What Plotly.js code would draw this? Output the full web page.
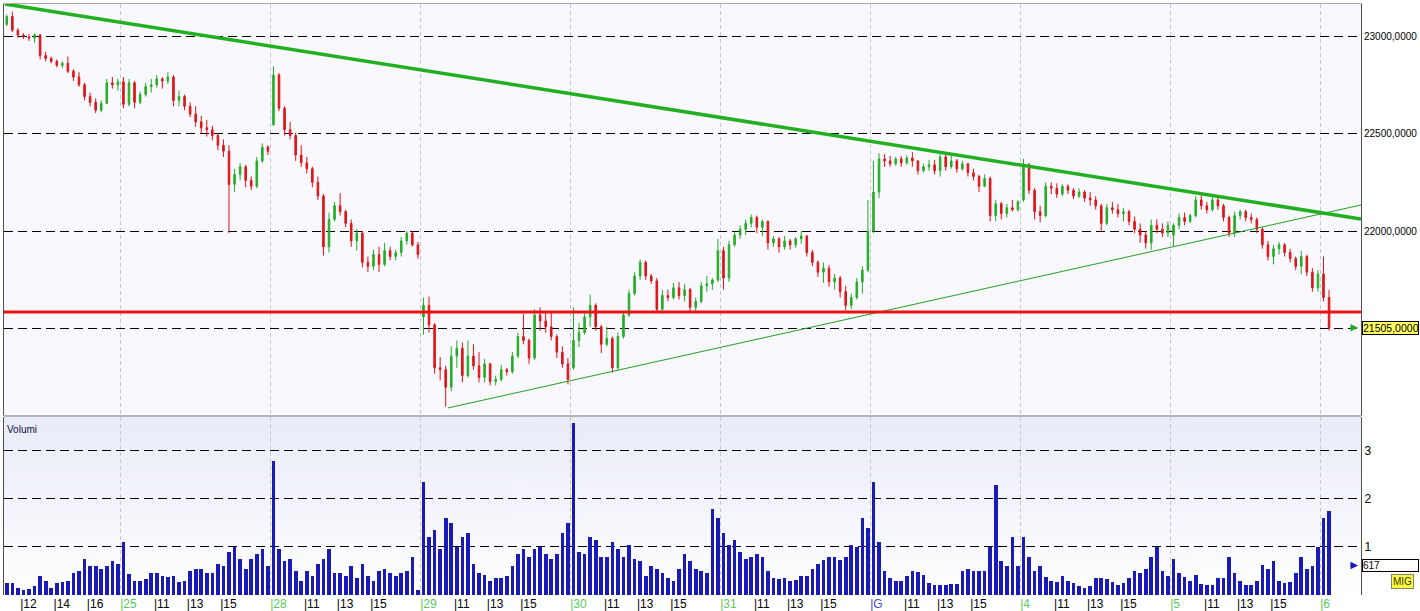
<!DOCTYPE html>
<html><head><meta charset="utf-8">
<script src="https://cdn.plot.ly/plotly-3.0.1.min.js"></script>
<style>html,body{margin:0;padding:0;background:#fff;}#chart{width:1420px;height:611px;}</style>
</head><body><div id="chart"></div>
<script>
// ---- DATA (20-minute bars) ----
const dayNames = ['25','28','29','30','31','G','4','5','6'];
const firstDayHours = ['12','14','16'];
const dayHours = ['11','13','15'];
const priceTicks = [21500, 22000, 22500, 23000];
const volumeTicks = [1, 2, 3];

const openP = [
 23060,23100,23030,23005,22995,22990,23005,22900,22885,22870,22850,22860,22820,22790,22750,22690,22660,22620,22655,22760,22750,
 22765,22650,22760,22660,22700,22740,22750,22780,22770,22790,22670,22690,22640,22600,22560,22530,22520,22490,22440,22410,22240,22290,22330,22260,22230,22360,22430,
 22545,22800,22630,22520,22490,22390,22350,22320,22250,22180,21920,22060,22130,22100,22040,21950,21990,21840,21820,21880,21830,21900,21870,21890,21950,21990,21930,
 21560,21620,21520,21300,21290,21200,21360,21400,21260,21360,21310,21250,21320,21230,21240,21290,21280,21360,21460,21440,21350,21570,21540,21510,21460,21380,21320,
 21300,21440,21480,21560,21620,21510,21420,21450,21300,21460,21570,21680,21770,21840,21770,21745,21600,21670,21660,21710,21670,21700,21610,21640,21720,21730,21750,
 21900,21760,21930,21980,22010,22040,22070,22020,22050,21940,21960,21920,21950,21930,21960,21975,21890,21840,21790,21810,21740,21760,21690,21620,21660,21740,21800,
 22000,22200,22370,22360,22345,22370,22350,22375,22360,22310,22330,22340,22310,22380,22330,22360,22320,22345,22300,22280,22230,22270,22080,22140,22090,22120,22110,
 22160,22340,22210,22100,22080,22230,22220,22190,22230,22210,22180,22200,22170,22160,22130,22040,22120,22110,22090,22100,22050,22010,21980,21940,22030,22010,21990,
 21980,22030,22070,22050,22080,22160,22130,22110,22160,22130,22070,21990,22080,22100,22070,22060,22010,21930,21870,21910,21930,21890,21860,21820,21870,21790,21710,
 21780,21660
];
const highP = [
 23110,23125,23040,23015,23010,23015,23010,22920,22895,22880,22870,22895,22830,22815,22760,22710,22680,22670,22780,22790,22780,
 22790,22780,22770,22715,22760,22780,22800,22790,22815,22800,22720,22700,22660,22640,22590,22570,22540,22500,22470,22440,22320,22350,22340,22280,22380,22450,22440,
 22845,22810,22640,22560,22505,22440,22380,22330,22280,22190,22095,22150,22195,22110,22060,22010,22000,21870,21905,21920,21940,21920,21905,21970,22000,22000,21945,
 21660,21665,21530,21355,21310,21410,21440,21430,21440,21420,21380,21345,21325,21260,21315,21300,21380,21480,21575,21450,21600,21610,21590,21580,21470,21410,21350,
 21610,21530,21580,21675,21630,21520,21510,21460,21480,21590,21700,21790,21855,21850,21780,21760,21700,21700,21735,21740,21730,21710,21660,21740,21770,21760,21960,
 21920,21950,21995,22030,22060,22085,22080,22060,22055,21975,21970,21975,21960,21970,22000,21980,21905,21850,21840,21825,21780,21770,21720,21680,21760,21820,22160,
 22360,22400,22395,22385,22380,22385,22390,22405,22365,22345,22365,22365,22400,22390,22385,22370,22360,22350,22320,22290,22290,22280,22160,22150,22140,22160,22160,
 22370,22350,22220,22130,22250,22250,22245,22240,22240,22220,22220,22210,22200,22180,22140,22140,22150,22140,22120,22110,22075,22040,22000,22060,22060,22040,22050,
 22040,22090,22095,22090,22180,22190,22150,22175,22175,22140,22080,22100,22110,22110,22090,22070,22020,21950,21930,21945,21940,21910,21870,21900,21880,21810,21800,
 21870,21700
];
const lowP = [
 23050,23020,22990,22985,22975,22965,22880,22870,22860,22840,22835,22810,22770,22740,22670,22640,22605,22610,22650,22730,22720,
 22630,22640,22630,22650,22690,22710,22735,22730,22755,22640,22640,22620,22585,22535,22500,22485,22465,22415,22380,21990,22200,22260,22225,22210,22220,22350,22390,
 22540,22615,22490,22470,22360,22330,22295,22225,22160,21875,21890,22050,22080,22020,21920,21900,21815,21790,21800,21790,21820,21850,21850,21870,21930,21920,21860,
 21470,21480,21270,21235,21100,21180,21300,21225,21250,21290,21225,21225,21210,21210,21230,21260,21270,21350,21420,21320,21340,21490,21480,21440,21350,21300,21215,
 21290,21405,21470,21510,21490,21375,21410,21275,21290,21450,21560,21670,21750,21750,21730,21580,21575,21640,21650,21650,21640,21590,21590,21630,21690,21700,21740,
 21700,21740,21920,21960,21980,22020,21990,21975,21905,21920,21890,21905,21905,21915,21935,21870,21820,21765,21735,21715,21700,21660,21595,21600,21650,21680,21790,
 21990,22170,22330,22330,22335,22330,22340,22330,22290,22300,22310,22290,22280,22310,22320,22300,22310,22280,22260,22200,22225,22050,22050,22060,22070,22100,22100,
 22150,22190,22060,22045,22070,22190,22170,22180,22190,22165,22170,22150,22130,22110,22000,22030,22090,22070,22050,22030,21990,21940,21910,21905,21990,21970,21970,
 21920,22010,22030,22040,22070,22110,22090,22100,22110,22050,21970,21970,22060,22050,22040,21990,21910,21850,21830,21880,21870,21840,21800,21780,21770,21690,21690,
 21640,21490
];
const closeP = [
 23100,23030,23005,22995,22990,23005,22900,22885,22870,22850,22860,22820,22790,22750,22690,22660,22620,22655,22760,22750,22765,
 22650,22760,22660,22700,22740,22750,22780,22770,22790,22670,22690,22640,22600,22560,22530,22520,22490,22440,22410,22240,22290,22330,22260,22230,22360,22430,22410,
 22800,22630,22520,22490,22390,22350,22320,22250,22180,21920,22060,22130,22100,22040,21950,21990,21840,21820,21880,21830,21900,21870,21890,21950,21990,21930,21880,
 21620,21520,21300,21290,21200,21360,21400,21260,21360,21310,21250,21320,21230,21240,21290,21280,21360,21460,21440,21350,21570,21540,21510,21460,21380,21320,21240,
 21440,21480,21560,21620,21510,21420,21450,21300,21460,21570,21680,21770,21840,21770,21745,21600,21670,21660,21710,21670,21700,21610,21640,21720,21730,21750,21900,
 21760,21930,21980,22010,22040,22070,22020,22050,21940,21960,21920,21950,21930,21960,21975,21890,21840,21790,21810,21740,21760,21690,21620,21660,21740,21800,22000,
 22200,22370,22360,22345,22370,22350,22375,22360,22310,22330,22340,22310,22380,22330,22360,22320,22345,22300,22280,22230,22270,22080,22140,22090,22120,22110,22150,
 22340,22210,22100,22080,22230,22220,22190,22230,22210,22180,22200,22170,22160,22130,22040,22120,22110,22090,22100,22050,22010,21980,21940,22030,22010,21990,22030,
 22030,22070,22050,22080,22160,22130,22110,22160,22130,22070,21990,22080,22100,22070,22060,22010,21930,21870,21910,21930,21890,21860,21820,21870,21790,21710,21780,
 21660,21505
];
const volumeK = [
 0.25,0.25,0.15,0.10,0.12,0.18,0.40,0.30,0.15,0.25,0.28,0.30,0.45,0.50,0.75,0.60,0.60,0.55,0.60,0.70,0.65,
 1.10,0.44,0.30,0.30,0.33,0.45,0.45,0.40,0.37,0.40,0.27,0.30,0.50,0.55,0.55,0.45,0.45,0.65,0.60,0.90,1.00,0.75,0.55,0.75,0.85,0.95,0.60,
 2.80,0.95,0.70,0.75,0.50,0.30,0.50,0.40,0.65,0.75,0.95,0.45,0.45,0.40,0.60,0.35,0.65,0.40,0.30,0.50,0.55,0.45,0.40,0.45,0.50,0.80,0.10,
 2.35,1.20,1.35,0.95,1.60,1.50,1.00,1.20,1.30,0.65,0.45,0.42,0.30,0.35,0.35,0.40,0.60,0.85,0.95,0.80,0.95,1.00,0.85,0.75,0.85,1.30,1.50,
 3.58,0.90,0.85,1.20,1.15,0.80,0.80,1.10,0.95,0.80,1.05,0.75,0.70,0.40,0.60,0.55,0.45,0.35,0.30,0.55,0.85,0.70,0.55,0.50,0.45,1.80,1.60,
 1.30,1.05,1.15,0.90,0.75,0.80,0.85,0.80,0.50,0.35,0.33,0.35,0.30,0.32,0.40,0.40,0.55,0.65,0.72,0.80,0.80,0.72,0.80,1.05,1.00,1.60,1.40,
 2.35,1.10,0.50,0.35,0.30,0.30,0.40,0.50,0.48,0.42,0.25,0.20,0.20,0.20,0.22,0.22,0.50,0.55,0.50,0.50,0.50,1.00,2.30,0.70,0.60,1.20,0.60,
 1.20,0.80,0.50,0.60,0.38,0.30,0.28,0.40,0.30,0.25,0.18,0.15,0.18,0.35,0.35,0.33,0.28,0.20,0.25,0.35,0.50,0.45,0.55,0.80,1.00,0.50,0.40,
 0.75,0.45,0.38,0.30,0.42,0.22,0.20,0.20,0.35,0.35,0.80,0.45,0.30,0.20,0.20,0.30,0.62,0.55,0.70,0.30,0.25,0.28,0.45,0.80,0.55,0.60,1.00,
 1.60,1.75
];
const lastVolume = 0.617;          // thousands, label "617"
const supportLevel = 21586;         // red horizontal line
const trendDownX = [-0.32, 243.75], trendDownY = [23164, 22062];
const trendUpX = [79.4, 243.75],   trendUpY = [21094, 22134];

// ---- LAYOUT CONSTANTS ----
const FIRST_DAY_BARS = 21, BARS_PER_DAY = 27, BARS_PER_HOUR = 3;
const X_MIN = -0.5, X_MAX = 243.75;
const PX_PER_UNIT = 1357 / (X_MAX - X_MIN);
const idx = closeP.map((_, i) => i);
const lastClose = closeP[closeP.length - 1];

const dayStart = d => FIRST_DAY_BARS - 0.5 + BARS_PER_DAY * d;
const firstOrigin = FIRST_DAY_BARS - 0.5 - BARS_PER_DAY;
const ticks = [];
firstDayHours.forEach(h => ticks.push({u: firstOrigin + (h - 9) * BARS_PER_HOUR, t: h, c: '#000000'}));
dayNames.forEach((n, i) => {
  ticks.push({u: dayStart(i), t: n, c: n === 'G' ? '#4b4bc8' : '#5cc85c'});
  if (i < dayNames.length - 1) dayHours.forEach(h => ticks.push({u: dayStart(i) + (h - 9) * BARS_PER_HOUR, t: h, c: '#000000'}));
});
const labelWidth = s => 3.1 + [...s].reduce((a, ch) => a + (ch === 'G' ? 9.3 : 6.7), 0);
const tickvals = ticks.map(o => o.u + (labelWidth(o.t) / 2 - 0.5) / PX_PER_UNIT);
const ticktext = ticks.map(o => `<span style="color:${o.c}">|${o.t}</span>`);
const dayStartsU = dayNames.map((_, i) => dayStart(i));

// gradient background for the volume pane
const cv = document.createElement('canvas'); cv.width = 4; cv.height = 200;
const cx = cv.getContext('2d'); const g = cx.createLinearGradient(0, 0, 0, 200);
g.addColorStop(0, '#e9ebf8'); g.addColorStop(1, '#ffffff');
cx.fillStyle = g; cx.fillRect(0, 0, 4, 200);
const gradURL = cv.toDataURL();

const GREEN = '#26ad26', RED = '#e01414';
const fmt = v => v.toFixed(4).replace('.', ',');

const traces = [
  {type: 'candlestick', x: idx, open: openP, high: highP, low: lowP, close: closeP,
   xaxis: 'x', yaxis: 'y', whiskerwidth: 0, hoverinfo: 'skip', showlegend: false,
   increasing: {line: {color: GREEN, width: 1}, fillcolor: GREEN},
   decreasing: {line: {color: RED, width: 1}, fillcolor: RED}},
  {type: 'scatter', mode: 'lines', x: trendDownX, y: trendDownY, xaxis: 'x', yaxis: 'y',
   line: {color: '#22b022', width: 3.5}, hoverinfo: 'skip', showlegend: false},
  {type: 'scatter', mode: 'lines', x: trendUpX, y: trendUpY, xaxis: 'x', yaxis: 'y',
   line: {color: '#22a022', width: 1}, hoverinfo: 'skip', showlegend: false},
  {type: 'bar', x: idx, y: volumeK, xaxis: 'x2', yaxis: 'y2', width: 0.66,
   marker: {color: '#1a1ab8', line: {width: 0}}, hoverinfo: 'skip', showlegend: false}
];

const gridDashH = '9px,5px', gridDashV = '4px,3px';
const layout = {
  width: 1420, height: 611, margin: {l: 4, r: 59, t: 4, b: 16, pad: 0},
  paper_bgcolor: '#ffffff', plot_bgcolor: '#f8f8fe', showlegend: false,
  boxgap: 0.6, bargap: 0,
  font: {family: 'Liberation Sans, Arial, sans-serif', size: 12, color: '#000'},
  xaxis: {domain: [0, 1], anchor: 'y', range: [X_MIN, X_MAX], tickmode: 'array', tickvals: dayStartsU,
    showticklabels: false, ticks: '', showgrid: true, gridcolor: '#c6c6ce', griddash: gridDashV, gridwidth: 1,
    zeroline: false, showline: true, mirror: true, linecolor: '#a8a8a8', linewidth: 1,
    rangeslider: {visible: false}, fixedrange: true},
  yaxis: {domain: [0.3046, 1], anchor: 'x', side: 'right', range: [21058, 23164], tickmode: 'array',
    tickvals: priceTicks, ticktext: priceTicks.map(v => v === 21500 ? '' : fmt(v)), showgrid: true, gridcolor: '#000000',
    griddash: gridDashH, gridwidth: 1, ticks: '', showline: true, mirror: true, linecolor: '#505050',
    zeroline: false, fixedrange: true, tickfont: {size: 10}},
  xaxis2: {domain: [0, 1], anchor: 'y2', matches: 'x', range: [X_MIN, X_MAX], tickmode: 'array',
    tickvals: tickvals, ticktext: ticktext, ticks: '', showgrid: false, zeroline: false, showline: false,
    tickfont: {size: 12}, tickangle: 0,
    minor: {tickmode: 'array', tickvals: dayStartsU, showgrid: true, gridcolor: '#c6c6ce', griddash: gridDashV, gridwidth: 1, ticks: ''}},
  yaxis2: {domain: [0, 0.3012], anchor: 'x2', side: 'right', range: [0, 3.708], tickmode: 'array',
    tickvals: volumeTicks, showgrid: true, gridcolor: '#000000', griddash: gridDashH, gridwidth: 1,
    ticks: '', showline: true, mirror: true, linecolor: '#505050', zeroline: false, tickfont: {size: 12}},
  images: [{source: gradURL, xref: 'x2', yref: 'y2', x: X_MIN, y: 3.708, sizex: X_MAX - X_MIN, sizey: 3.708,
    sizing: 'stretch', xanchor: 'left', yanchor: 'top', layer: 'below'}],
  shapes: [
    {type: 'line', xref: 'paper', yref: 'y', x0: 0, x1: 1, y0: supportLevel, y1: supportLevel,
     line: {color: '#ee1111', width: 3}, layer: 'above'},
    {type: 'line', xref: 'paper', yref: 'paper', x0: 0, x1: 1, y0: 0.3029, y1: 0.3029,
     line: {color: '#b4b4b4', width: 2}}
  ],
  annotations: [
    {xref: 'paper', x: 1, xanchor: 'left', xshift: 1, yref: 'y', y: lastClose, text: fmt(lastClose),
     showarrow: false, bgcolor: '#ffff66', bordercolor: '#000000', borderwidth: 1, borderpad: 0,
     width: 55, align: 'left', font: {size: 10.5, color: '#000'}},
    {xref: 'paper', x: 1, xshift: -3, yref: 'y', y: lastClose, text: '', showarrow: true,
     ax: -9, ay: 0, arrowhead: 2, arrowsize: 1, arrowwidth: 1.5, arrowcolor: '#22aa22'},
    {xref: 'paper', x: 1, xanchor: 'left', xshift: 1, yref: 'y2', y: lastVolume, text: String(Math.round(lastVolume * 1000)),
     showarrow: false, bgcolor: '#ffffff', bordercolor: '#000000', borderwidth: 1, borderpad: 0,
     width: 55, align: 'left', font: {size: 10, color: '#000'}},
    {xref: 'paper', x: 1, xshift: -3, yref: 'y2', y: lastVolume, text: '', showarrow: true,
     ax: -9, ay: 0, arrowhead: 2, arrowsize: 1, arrowwidth: 1.5, arrowcolor: '#1818c8'},
    {xref: 'paper', x: 1.0221, xanchor: 'left', yref: 'paper', y: 0.022, yanchor: 'middle', text: 'MIG',
     showarrow: false, bgcolor: '#ffff33', bordercolor: '#808080', borderwidth: 1, borderpad: 1,
     font: {size: 10, color: '#333'}},
    {xref: 'paper', x: 0, xanchor: 'left', xshift: 1, yref: 'paper', y: 0.3012, yanchor: 'top', yshift: -5,
     text: 'Volumi', showarrow: false, font: {size: 10, color: '#101040'}}
  ]
};

Plotly.newPlot('chart', traces, layout, {displayModeBar: false, staticPlot: true});
</script>
</body></html>
